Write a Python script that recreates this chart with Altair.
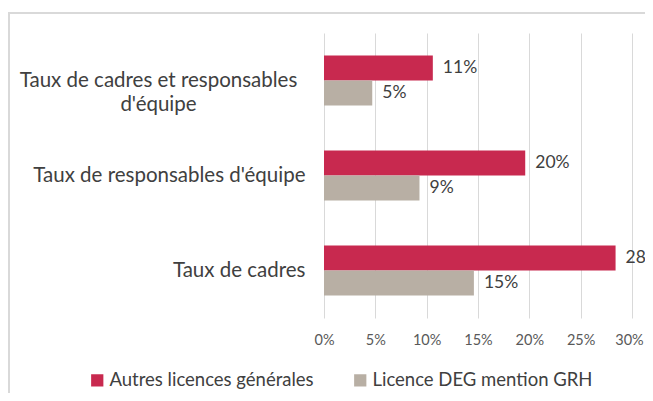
import altair as alt
import pandas as pd

categories = ["Taux de cadres et responsables|d'équipe",
              "Taux de responsables d'équipe",
              "Taux de cadres"]
series = ["Autres licences générales", "Licence DEG mention GRH"]
autres = [0.106, 0.196, 0.284]
deg = [0.047, 0.093, 0.146]
x_ticks = [0, 0.05, 0.10, 0.15, 0.20, 0.25, 0.30]
colors = ["#C8294F", "#B8AFA4"]

rows = []
for c, a, d in zip(categories, autres, deg):
    rows.append({"cat": c, "serie": series[0], "val": a})
    rows.append({"cat": c, "serie": series[1], "val": d})
df = pd.DataFrame(rows)

FONT = "Lato"

y_enc = alt.Y("cat:N", sort=categories,
              scale=alt.Scale(domain=categories, paddingInner=0, paddingOuter=0),
              axis=alt.Axis(title=None, domain=False, ticks=False, grid=False,
                            labelExpr="split(datum.label, '|')",
                            labelAlign={"condition": {"test": "indexof(datum.value, '|') >= 0", "value": "center"}, "value": "right"},
                            labelPadding={"condition": {"test": "indexof(datum.value, '|') >= 0", "value": 166}, "value": 19},
                            labelLineHeight=24, labelLimit=0, labelFontSize=20.5,
                            labelColor="#404040", labelFont=FONT))
yoff = alt.YOffset("serie:N", sort=series,
                   scale=alt.Scale(domain=series, paddingInner=0, paddingOuter=0.9))
x_enc = alt.X("val:Q", scale=alt.Scale(domain=[0, 0.30]),
              axis=alt.Axis(title=None, values=x_ticks, format=".0%", grid=True,
                            gridColor="#d9d9d9", domain=False, ticks=False,
                            labelFlush=False, labelOverlap=False,
                            labelOffset={"condition": {"test": "datum.value >= 0.29", "value": -3}, "value": 0},
                            labelPadding=15, labelFontSize=14.5, labelColor="#595959",
                            labelFont=FONT))

bars = alt.Chart(df).mark_bar().encode(
    x=x_enc, y=y_enc, yOffset=yoff,
    color=alt.Color("serie:N", sort=series,
                    scale=alt.Scale(domain=series, range=colors),
                    legend=alt.Legend(title=None, orient="none", direction="horizontal",
                                      legendX=-236, legendY=338,
                                      symbolType="square", symbolSize=150,
                                      symbolStrokeWidth=0, labelFontSize=18.5,
                                      labelFont=FONT, labelColor="#404040",
                                      labelOffset=3, columnPadding=37, labelLimit=0)),
)

labels = alt.Chart(df).mark_text(align="left", baseline="middle", dx=10,
                                 fontSize=17.5, font=FONT, color="#404040").encode(
    x="val:Q", y=alt.Y("cat:N", sort=categories), yOffset=alt.YOffset("serie:N", sort=series),
    text=alt.Text("val:Q", format=".0%"),
)

frame = alt.Chart(pd.DataFrame({"a": [0]})).mark_rect(
    fill="transparent", stroke="#d9d9d9", strokeWidth=2).encode(
    x=alt.value(-315), x2=alt.value(400), y=alt.value(-20), y2=alt.value(420))

chart = alt.layer(frame, bars, labels).properties(
    width=308, height=285,
    autosize=alt.AutoSizeParams(type="none"),
    padding={"left": 316, "top": 25, "right": 13, "bottom": 75},
).configure_view(stroke=None)

chart.save("out.html", embed_options={"renderer": "svg", "actions": False})
